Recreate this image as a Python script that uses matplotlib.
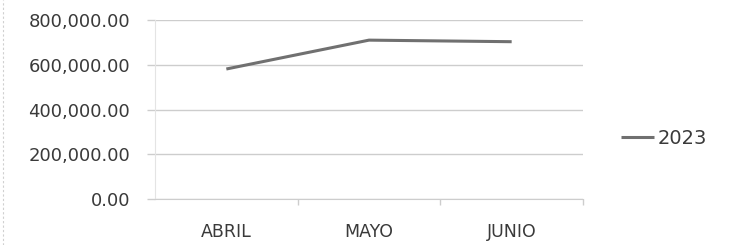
import matplotlib
matplotlib.use("Agg")
import matplotlib.pyplot as plt
from matplotlib.ticker import FuncFormatter, FixedLocator

# data
months = ["ABRIL", "MAYO", "JUNIO"]
serie_2023 = [581000, 710000, 703000]
serie_label = "2023"

INK = "#3a3a3a"
GRID = "#cdcdcd"
LINE = "#707070"

plt.rcParams["font.family"] = ["DejaVu Sans"]

fig = plt.figure(figsize=(7.29, 2.45), dpi=100)
ax = fig.add_axes([155 / 729, 1 - 199 / 245, (583 - 155) / 729, (199 - 20) / 245])

x = list(range(len(months)))
ax.plot(x, serie_2023, color=LINE, lw=2.2, label=serie_label, solid_capstyle="butt")

ax.set_xlim(-0.5, len(months) - 0.5)
ax.set_ylim(0, 800000)
ax.set_yticks([0, 200000, 400000, 600000, 800000])
ax.yaxis.set_major_formatter(FuncFormatter(lambda v, p: f"{v:,.2f}"))
ax.set_xticks(x)
ax.set_xticklabels(months)
ax.xaxis.set_minor_locator(FixedLocator([0.5, 1.5, 2.5]))

ax.grid(axis="y", color=GRID, lw=1.0)
ax.set_axisbelow(True)
for side in ("top", "right"):
    ax.spines[side].set_visible(False)
ax.spines["left"].set_color("#e4e4e4")
ax.spines["bottom"].set_color(GRID)
ax.tick_params(axis="y", length=6, width=1.0, color=GRID, pad=12,
               labelsize=13, labelcolor=INK)
ax.tick_params(axis="x", which="major", length=0, pad=17,
               labelsize=12.5, labelcolor=INK)
ax.tick_params(axis="x", which="minor", length=4, width=1.0, color=GRID)

fig.legend(loc="center left", bbox_to_anchor=(603 / 729, 1 - 138 / 245),
           frameon=False, fontsize=14, handlelength=1.7, handletextpad=0.2,
           labelcolor=INK)

# faint dotted border of the scan at the left edge
fig.add_artist(plt.Line2D([3 / 729, 3 / 729], [0, 1], transform=fig.transFigure,
                          color="#d0d0d0", lw=0.8, ls=(0, (2, 2))))

fig.savefig("out.png", dpi=100, facecolor="white")
